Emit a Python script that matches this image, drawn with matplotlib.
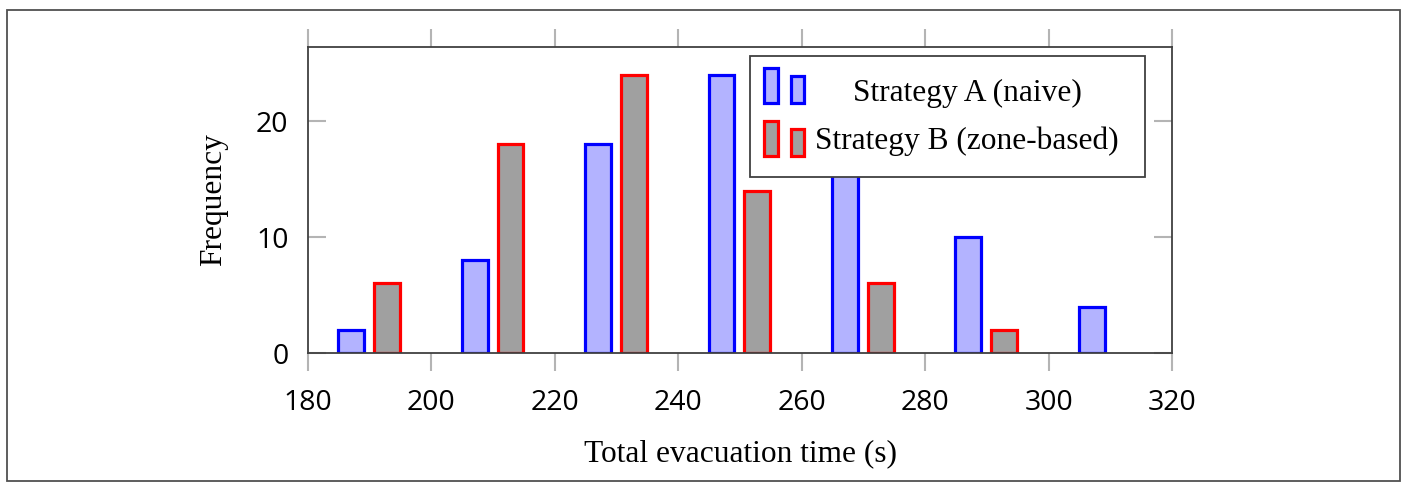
import numpy as np
import matplotlib
matplotlib.use("Agg")
import matplotlib.pyplot as plt
from matplotlib.patches import Rectangle

# histogram bins (s) and counts
bins = [190, 210, 230, 250, 270, 290, 310]
naive = [2, 8, 18, 24, 18, 10, 4]
zone = [6, 18, 24, 14, 6, 2, 0]
labels = ["Strategy A (naive)", "Strategy B (zone-based)"]
xticks = [180, 200, 220, 240, 260, 280, 300, 320]
yticks = [0, 10, 20]

SERIF = ["Liberation Serif", "DejaVu Serif"]
SANS = ["Open Sans", "DejaVu Sans"]
blue_fill, blue_edge = "#b3b3ff", "#0000ff"
red_fill, red_edge = "#a0a0a0", "#ff0000"
spine_c = "#404040"
tick_c = "#b4b4b4"

fig = plt.figure(figsize=(14.04, 4.82), dpi=100)
ax = fig.add_axes([0.2194, 0.2676, 0.6154, 0.6349])

x = np.array(bins, dtype=float)
ax.bar(x - 3.0, naive, width=4.2, color=blue_fill, edgecolor=blue_edge, linewidth=2.3, zorder=3)
ax.bar(x + 2.8, [v if v > 0 else np.nan for v in zone], width=4.2, color=red_fill,
       edgecolor=red_edge, linewidth=2.3, zorder=3)

ax.set_xlim(180, 320)
ax.set_ylim(0, 26.4)
ax.set_xticks(xticks)
ax.set_yticks(yticks)
ax.set_xticklabels([str(t) for t in xticks], family=SANS, fontsize=20.5)
ax.set_yticklabels([str(t) for t in yticks], family=SANS, fontsize=20.5)

ax.tick_params(axis="x", which="both", direction="out", length=13, width=1.5, color=tick_c,
               top=True, bottom=True, pad=13)
ax.tick_params(axis="y", which="both", direction="in", length=13, width=1.5, color=tick_c,
               left=True, right=True, pad=14)
for s in ax.spines.values():
    s.set_color(spine_c)
    s.set_linewidth(1.3)
    s.set_zorder(4)

ax.set_xlabel("Total evacuation time (s)", family=SERIF, fontsize=22.6, labelpad=16)
ax.set_ylabel("Frequency", family=SERIF, fontsize=22.6, labelpad=20)

# legend drawn by hand so that the labels are centred like the original
tr = ax.transAxes
px = lambda v: (v - 308) / 864.0
py = lambda v: (353 - v) / 306.0
ax.add_patch(Rectangle((px(750), py(177)), px(1145) - px(750), py(56) - py(177), transform=tr,
                       facecolor="white", edgecolor=spine_c, linewidth=1.3, zorder=6, clip_on=False))
rows = [(103, blue_fill, blue_edge, 93), (156, red_fill, red_edge, 141)]
for lab, (base, fc, ec, ty) in zip(labels, rows):
    for x0, x1, top in [(764, 778, base - 35), (791, 804, base - 27)]:
        ax.add_patch(Rectangle((px(x0), py(base)), px(x1) - px(x0), py(top) - py(base), transform=tr,
                               facecolor=fc, edgecolor=ec, linewidth=2.3, zorder=7, clip_on=False))
    ax.text(px(967), py(ty), lab, transform=tr, ha="center", va="center", family=SERIF,
            fontsize=22.6, zorder=8)

# outer frame
fig.patches.append(Rectangle((7 / 1404, 1 / 482), 1393 / 1404, 471 / 482, transform=fig.transFigure,
                             fill=False, edgecolor="#505050", linewidth=1.3))

fig.savefig("out.png", dpi=100)
